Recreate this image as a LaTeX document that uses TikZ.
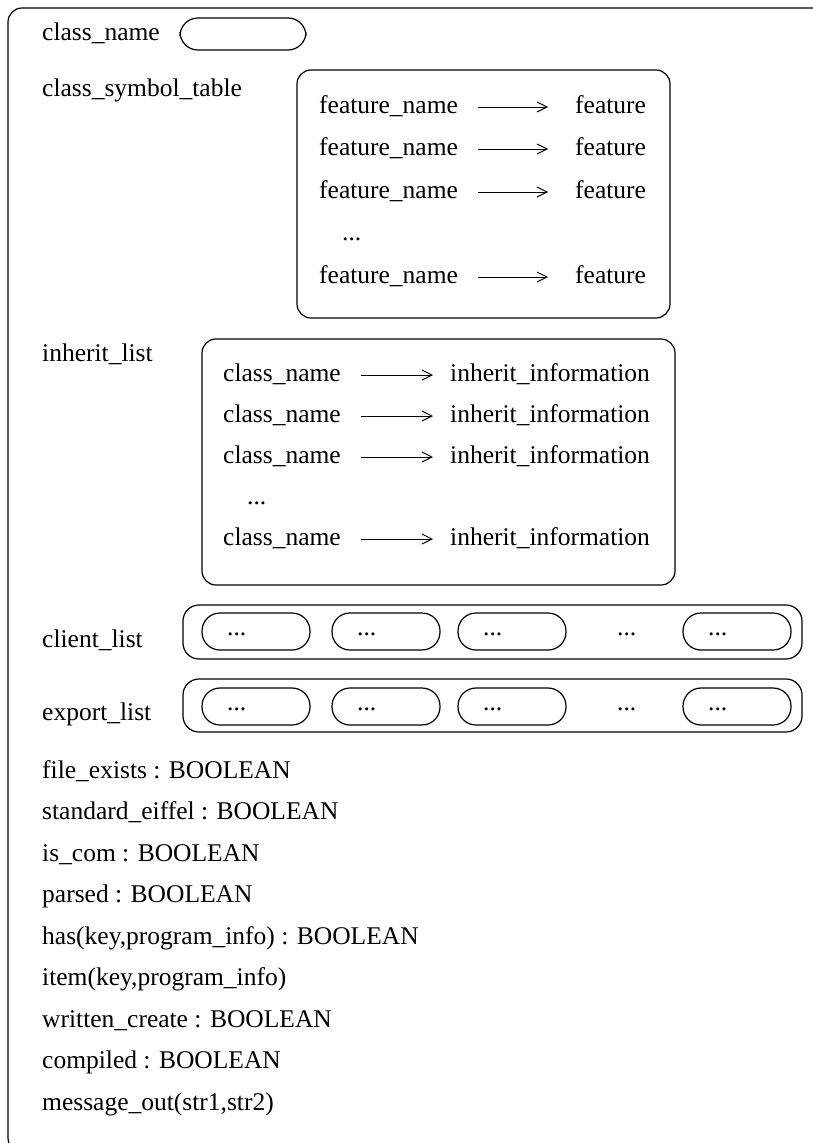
\documentclass[tikz,border=0pt]{standalone}
\usepackage{fontspec}
\setmainfont{Liberation Serif}
\usetikzlibrary{arrows.meta,positioning}

\tikzset{
  lbl/.style={anchor=west, inner sep=0pt, text height=18pt, text depth=6pt},
  frame/.style={draw, line width=1.2pt, rounded corners=14pt},
  pill/.style={draw, line width=1.2pt, rounded corners=18pt},
  maps/.style={-{Straight Barb[length=10pt,width=10pt]}, line width=1pt},
}

\begin{document}
\begin{tikzpicture}[x=1pt, y=-1pt, font=\fontsize{25.5}{30}\selectfont]
\useasboundingbox (0,0) rectangle (813,1143);
\clip (0,0) rectangle (813,1143);

% the class record
\draw[frame] (8,8) rectangle (828,1152);

\node[lbl] (cname) at (42,34) {class\_name};
\draw[pill] (180,18) rectangle (306,50);

% symbol table
\node[lbl] (symtab) at (42,90) {class\_symbol\_table};
\draw[frame] (297,70) rectangle (670,318);
\foreach \i/\y in {1/107,2/149,3/192,5/277} {
  \node[lbl] (fname\i) at (319,\y) {feature\_name};
  \node[lbl] (feat\i) at (575,\y) {feature};
  \draw[maps, shorten <=20pt, shorten >=27pt] (fname\i) -- (feat\i);
}
\node[lbl] (fdots) at (342,234) {...};

% inherit list
\node[lbl] (inh) at (42,355) {inherit\_list};
\draw[frame] (202,339) rectangle (675,585);
\foreach \i/\y in {1/375,2/416,3/457,5/539} {
  \node[lbl] (iname\i) at (223,\y) {class\_name};
  \node[lbl] (info\i) at (450,\y) {inherit\_information};
  \draw[maps, shorten <=20pt, shorten >=17pt] (iname\i) -- (info\i);
}
\node[lbl] (idots) at (247,498) {...};

% client and export lists
\node[lbl] (clients) at (42,641) {client\_list};
\draw[frame, rounded corners=16pt] (183,605) rectangle (802,659);
\foreach \x in {202,332,458,683} {
  \draw[pill] (\x,613) rectangle (\x+108,650);
  \node[lbl] at (\x+25,629) {...};
}
\node[lbl] (cdots) at (617,629) {...};

\node[lbl] (exports) at (42,714) {export\_list};
\draw[frame, rounded corners=16pt] (183,679) rectangle (802,732);
\foreach \x in {202,332,458,683} {
  \draw[pill] (\x,688) rectangle (\x+108,725);
  \node[lbl] at (\x+25,704) {...};
}
\node[lbl] (edots) at (617,704) {...};

% attributes and routines
\foreach \t [count=\k from 0] in {file\_exists : BOOLEAN, standard\_eiffel : BOOLEAN,
    is\_com : BOOLEAN, parsed : BOOLEAN, {has(key,program\_info) : BOOLEAN},
    {item(key,program\_info)}, written\_create : BOOLEAN, compiled : BOOLEAN,
    {message\_out(str1,str2)}} {
  \node[lbl] (attr\k) at (42,772+41.5*\k) {\t};
}
\end{tikzpicture}
\end{document}
